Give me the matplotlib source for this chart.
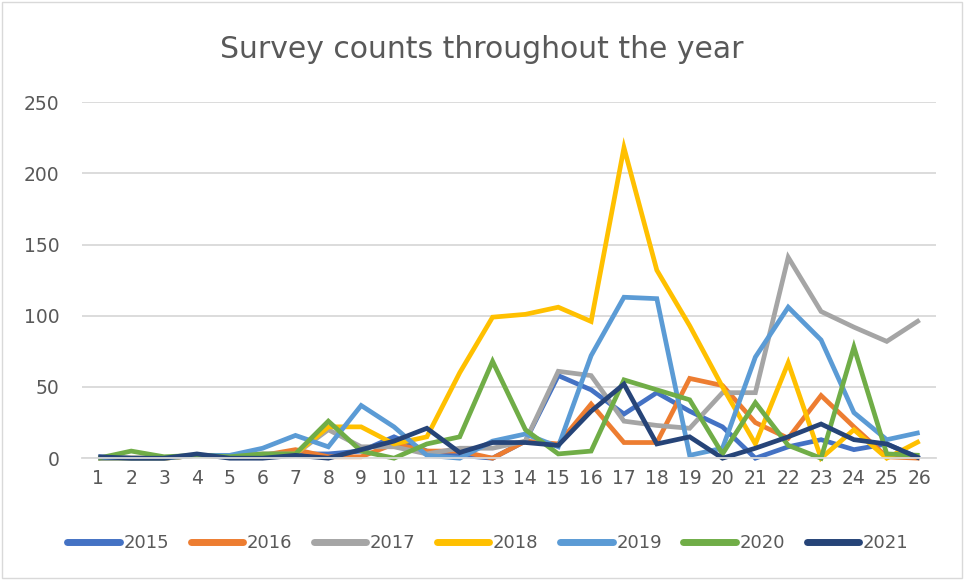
import numpy as np
import matplotlib.pyplot as plt

weeks = list(range(1, 27))

y2015 = [1, 0, 0, 2, 1, 2, 3, 3, 5, 15, 5, 2, 0, 12, 58, 48, 31, 46, 33, 22, 0, 8, 13, 6, 10, 0]
y2016 = [0, 0, 0, 2, 1, 2, 6, 1, 1, 10, 5, 5, 0, 12, 10, 38, 11, 11, 56, 51, 25, 14, 44, 22, 1, 0]
y2017 = [0, 0, 0, 2, 2, 3, 3, 20, 8, 8, 3, 7, 7, 12, 61, 58, 26, 23, 21, 46, 46, 141, 103, 92, 82, 97]
y2018 = [0, 0, 0, 2, 1, 2, 3, 22, 22, 10, 15, 60, 99, 101, 106, 96, 218, 132, 93, 50, 10, 67, 0, 20, 0, 12]
y2019 = [0, 0, 0, 2, 2, 7, 16, 8, 37, 22, 2, 0, 12, 17, 8, 72, 113, 112, 2, 7, 71, 106, 83, 32, 13, 18]
y2020 = [0, 5, 1, 2, 1, 3, 3, 26, 5, 0, 10, 15, 68, 20, 3, 5, 55, 48, 41, 3, 39, 9, 0, 78, 3, 2]
y2021 = [1, 0, 0, 3, 0, 0, 2, 0, 6, 12, 21, 4, 11, 11, 9, 33, 52, 10, 15, 0, 7, 15, 24, 13, 10, 0]

series = [
    ("2015", y2015, "#4472C4"),
    ("2016", y2016, "#ED7D31"),
    ("2017", y2017, "#A5A5A5"),
    ("2018", y2018, "#FFC000"),
    ("2019", y2019, "#5B9BD5"),
    ("2020", y2020, "#70AD47"),
    ("2021", y2021, "#264478"),
]

text_col = "#595959"

fig = plt.figure(figsize=(9.64, 5.8), dpi=100)
ax = fig.add_axes([0.085, 0.21, 0.886, 0.614])

for name, vals, col in series:
    ax.plot(weeks, vals, color=col, lw=3.4, label=name, clip_on=False,
            solid_joinstyle="miter", solid_capstyle="butt")

ax.set_xlim(0.5, 26.5)
ax.set_ylim(0, 250)
ax.set_yticks(range(0, 251, 50))
ax.set_xticks(weeks)
ax.grid(axis="y", color="#D9D9D9", lw=1.3)
ax.set_axisbelow(True)
for s in ["top", "right", "left"]:
    ax.spines[s].set_visible(False)
ax.spines["bottom"].set_color("#D9D9D9")
ax.spines["bottom"].set_linewidth(1.3)
ax.tick_params(length=0, labelsize=13.5, labelcolor=text_col)
ax.tick_params(axis="y", pad=16)
ax.tick_params(axis="x", pad=8)

fig.suptitle("Survey counts throughout the year", fontsize=21.5, color=text_col,
             y=0.94)

leg = fig.legend(loc="center", bbox_to_anchor=(0.506, 0.063), ncol=7,
                 frameon=False, fontsize=13, handlelength=2.9,
                 handletextpad=0.2, columnspacing=1.2)
for t in leg.get_texts():
    t.set_color(text_col)
for h in leg.get_lines():
    h.set_linewidth(5)
    h.set_solid_capstyle("round")

# outer chart border
fig.patches.append(plt.Rectangle((0.002, 0.003), 0.996, 0.994, transform=fig.transFigure,
                                 fill=False, edgecolor="#D9D9D9", lw=1))

fig.savefig("out.png", dpi=100)
